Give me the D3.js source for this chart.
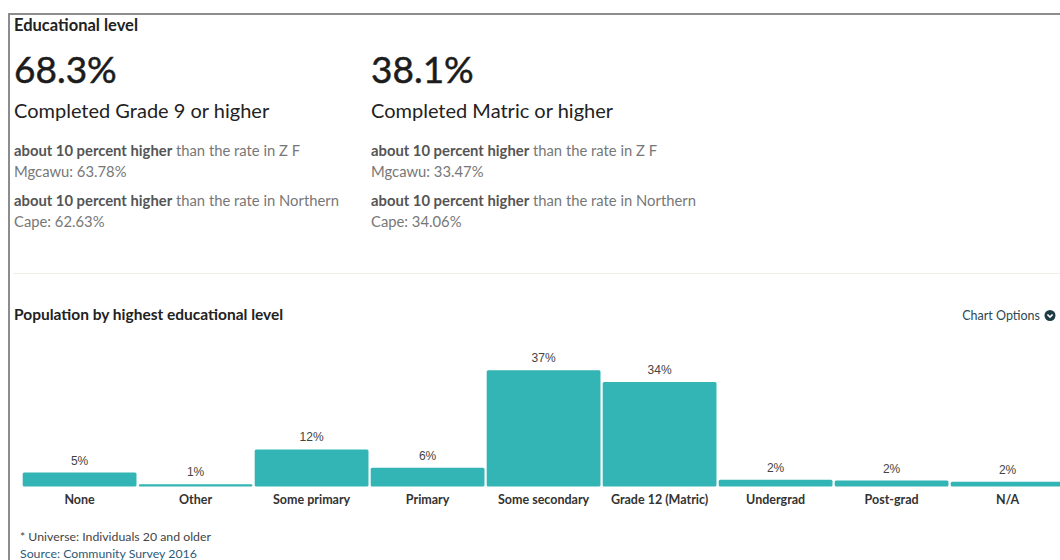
<!DOCTYPE html>
<html lang="en">
<head>
<meta charset="utf-8">
<title>Educational level</title>
<style>
  body { margin: 0; background: #fff; font-family: Lato, "Open Sans", sans-serif; }
  svg { display: block; }
</style>
<script src="https://d3js.org/d3.v7.min.js"></script>
</head>
<body>
<script>
// headline stats
let statValues = ["68.3%", "38.1%"]
let statLabels = ["Completed Grade 9 or higher", "Completed Matric or higher"]
let compareBold = ["about 10 percent higher", "about 10 percent higher"]
let compareZF = ["63.78%", "33.47%"]
let compareNC = ["62.63%", "34.06%"]

// bar chart
let categories = ["None", "Other", "Some primary", "Primary", "Some secondary", "Grade 12 (Matric)", "Undergrad", "Post-grad", "N/A"]
let percents = [4.5, 0.7, 11.9, 6.0, 37.4, 33.6, 2.2, 1.9, 1.5]

let width = 1060
let height = 560
let barColor = "#33b4b5"

let svg = d3.select("body").append("svg")
    .attr("width", width)
    .attr("height", height)

// frame
svg.append("line").attr("x1", 8).attr("x2", width).attr("y1", 14).attr("y2", 14)
    .attr("stroke", "#8c8c8c").attr("stroke-width", 2)
svg.append("line").attr("x1", 9).attr("x2", 9).attr("y1", 13).attr("y2", height)
    .attr("stroke", "#8c8c8c").attr("stroke-width", 2)

svg.append("text").text("Educational level")
    .attr("x", 14).attr("y", 31)
    .attr("font-size", 16.5).attr("font-weight", "bold").attr("fill", "#222")

let cols = [14, 371]
cols.forEach((x, i) => {
    let g = svg.append("g")
    g.append("text").text(statValues[i])
        .attr("x", x).attr("y", 83)
        .attr("font-size", 37).attr("fill", "#1c1c1c")
        .attr("stroke", "#1c1c1c").attr("stroke-width", 0.5)
    g.append("text").text(statLabels[i])
        .attr("x", x).attr("y", 118)
        .attr("font-size", 20).attr("fill", "#222")

    let t1 = g.append("text").attr("x", x).attr("y", 156).attr("font-size", 14.8).attr("fill", "#777")
    t1.append("tspan").text(compareBold[i]).attr("font-weight", "bold").attr("fill", "#555")
    t1.append("tspan").text(" than the rate in Z F")
    g.append("text").text("Mgcawu: " + compareZF[i])
        .attr("x", x).attr("y", 177).attr("font-size", 14.8).attr("fill", "#777")

    let t2 = g.append("text").attr("x", x).attr("y", 206).attr("font-size", 14.8).attr("fill", "#777")
    t2.append("tspan").text(compareBold[i]).attr("font-weight", "bold").attr("fill", "#555")
    t2.append("tspan").text(" than the rate in Northern")
    g.append("text").text("Cape: " + compareNC[i])
        .attr("x", x).attr("y", 227).attr("font-size", 14.8).attr("fill", "#777")
})

svg.append("line").attr("x1", 13).attr("x2", width).attr("y1", 273.5).attr("y2", 273.5)
    .attr("stroke", "#efefe9").attr("stroke-width", 1)

svg.append("text").text("Population by highest educational level")
    .attr("x", 14).attr("y", 320)
    .attr("font-size", 15.5).attr("font-weight", "bold").attr("fill", "#222")

svg.append("text").text("Chart Options")
    .attr("x", 1040).attr("y", 320).attr("text-anchor", "end")
    .attr("font-size", 12.5).attr("fill", "#2b4a55")
let icon = svg.append("g").attr("transform", "translate(1050,315.5)")
icon.append("circle").attr("r", 5.5).attr("fill", "#1d3c45")
icon.append("path").attr("d", "M-2.6,-1 L0,1.6 L2.6,-1")
    .attr("fill", "none").attr("stroke", "#fff").attr("stroke-width", 1.7)

// scales
let x = d3.scaleBand()
    .domain(categories)
    .range([22.7, 1064.5])
    .paddingInner(0.019)
    .paddingOuter(0)

let baseY = 486.5
let y = d3.scaleLinear()
    .domain([0, 40])
    .range([baseY, baseY - 3.11 * 40])

let chart = svg.append("g")

chart.selectAll("rect.bar")
    .data(categories)
    .enter()
    .append("rect")
    .attr("class", "bar")
    .attr("x", d => x(d))
    .attr("width", x.bandwidth())
    .attr("y", (d, i) => y(percents[i]))
    .attr("height", (d, i) => baseY - y(percents[i]))
    .attr("rx", 1.5)
    .attr("fill", barColor)

chart.selectAll("text.val")
    .data(categories)
    .enter()
    .append("text")
    .attr("class", "val")
    .text((d, i) => Math.round(percents[i]) + "%")
    .attr("x", d => x(d) + x.bandwidth() / 2)
    .attr("y", (d, i) => y(percents[i]) - 8)
    .attr("text-anchor", "middle")
    .attr("font-family", "'Liberation Sans', Arial, sans-serif")
    .attr("font-size", 12)
    .attr("fill", "#444")

let xAxis = d3.axisBottom(x).tickSize(0).tickPadding(0)
let axisG = svg.append("g")
    .attr("transform", `translate(0,${baseY})`)
    .call(xAxis)
axisG.select(".domain").remove()
axisG.selectAll("text")
    .attr("dy", null)
    .attr("y", 17)
    .attr("font-family", "Lato, sans-serif")
    .attr("font-size", 12.5)
    .attr("font-weight", "bold")
    .attr("fill", "#333")

svg.append("text").text("* Universe: Individuals 20 and older")
    .attr("x", 20).attr("y", 540.5)
    .attr("font-size", 12.3).attr("fill", "#444")
svg.append("text").text("Source: Community Survey 2016")
    .attr("x", 20).attr("y", 558)
    .attr("font-size", 12.3).attr("fill", "#2c5a78")
</script>
</body>
</html>
